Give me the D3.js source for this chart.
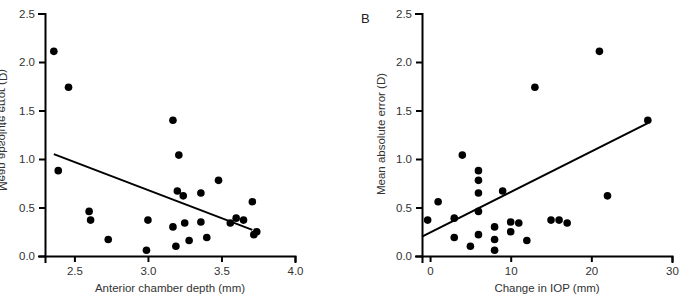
<!DOCTYPE html>
<html>
<head>
<meta charset="utf-8">
<script src="https://cdn.jsdelivr.net/npm/d3@7"></script>
<style>
    body { margin: 0; background: #fff; }
    svg { display: block; font-family: Arial, "Liberation Sans", sans-serif; }
    .axis path, .axis line { stroke: #000; stroke-width: 2; }
    .axis text { font-size: 11.5px; fill: #333; }
    .axis-label { font-size: 11.5px; fill: #333; }
</style>
</head>
<body>
<div class="acd-chart"></div>
<script>
// values
var maeValues = [2.11, 1.74, 1.40, 0.88, 1.04, 0.78, 0.67, 0.62, 0.65, 0.56, 0.46, 0.37, 0.37,
    0.30, 0.34, 0.35, 0.34, 0.39, 0.37, 0.25, 0.22, 0.17, 0.16, 0.19, 0.10, 0.06];
var acdValues = [2.36, 2.46, 3.17, 2.39, 3.21, 3.48, 3.20, 3.24, 3.36, 3.71, 2.60, 2.61, 3.00,
    3.17, 3.25, 3.36, 3.56, 3.60, 3.65, 3.74, 3.72, 2.73, 3.28, 3.40, 3.19, 2.99];
var iopValues = [21, 13, 27, 6, 4, 6, 9, 22, 6, 1, 6, 15, -0.3,
    8, 11, 10, 17, 3, 16, 10, 6, 8, 12, 3, 5, 8];
var fitAx = [2.36, 3.71];
var fitAy = [1.05, 0.27];
var fitBx = [-1, 27];
var fitBy = [0.20, 1.37];
var yTicks = [0, 0.5, 1.0, 1.5, 2.0, 2.5];
var acdTicks = [2.5, 3.0, 3.5, 4.0];
var iopTicks = [0, 10, 20, 30];
var yTitle = "Mean absolute error (D)";

var width = 681;
var height = 295;

var svg = d3.select(".acd-chart")
    .append("svg")
    .attr("width", width)
    .attr("height", height);

var y = d3.scaleLinear().domain([0, 2.5]).range([256, 13.5]);

function drawpanel(opts) {
    var x = d3.scaleLinear().domain(opts.domain).range(opts.range);
    var g = svg.append("g");

    g.append("g")
        .attr("class", "axis")
        .attr("transform", "translate(0,256)")
        .call(d3.axisBottom(x)
            .tickValues(opts.ticks)
            .tickFormat(opts.format)
            .tickSizeOuter(0)
            .tickSize(6)
            .tickPadding(5));

    g.append("g")
        .attr("class", "axis")
        .attr("transform", "translate(" + opts.range[0] + ",0)")
        .call(d3.axisLeft(y)
            .tickValues(yTicks)
            .tickFormat(d3.format(".1f"))
            .tickSizeOuter(0)
            .tickSize(6)
            .tickPadding(4));

    g.selectAll(".domain").attr("stroke-linecap", "square");

    g.append("line")
        .attr("x1", x(opts.fitx[0]))
        .attr("y1", y(opts.fity[0]))
        .attr("x2", x(opts.fitx[1]))
        .attr("y2", y(opts.fity[1]))
        .attr("stroke", "#000")
        .attr("stroke-width", 2);

    g.selectAll("circle")
        .data(maeValues)
        .enter()
        .append("circle")
        .attr("cx", function (d, i) {
            return x(opts.xs[i]);
        })
        .attr("cy", function (d) {
            return y(d);
        })
        .attr("r", 3.8)
        .attr("fill", "#000");

    g.append("text")
        .attr("class", "axis-label")
        .attr("x", (opts.range[0] + opts.range[1]) / 2)
        .attr("y", 292)
        .attr("text-anchor", "middle")
        .text(opts.xtitle);

    return g;
}

var panelA = drawpanel({
    domain: [2.3, 4.0],
    range: [45, 295],
    ticks: acdTicks,
    format: d3.format(".1f"),
    xs: acdValues,
    fitx: fitAx,
    fity: fitAy,
    xtitle: "Anterior chamber depth (mm)"
});

var panelB = drawpanel({
    domain: [-1, 30],
    range: [422, 672],
    ticks: iopTicks,
    format: d3.format("d"),
    xs: iopValues,
    fitx: fitBx,
    fity: fitBy,
    xtitle: "Change in IOP (mm)"
});

// left y title is mirrored and cut by the edge in the source figure
panelA.append("text")
    .attr("class", "axis-label")
    .attr("transform", "translate(-1,130) scale(-1,1) rotate(-90)")
    .attr("text-anchor", "middle")
    .text(yTitle);

panelB.append("text")
    .attr("class", "axis-label")
    .attr("transform", "translate(385,134) rotate(-90)")
    .attr("text-anchor", "middle")
    .text(yTitle);

panelB.append("text")
    .attr("x", 361)
    .attr("y", 23)
    .attr("font-size", 13)
    .attr("fill", "#222")
    .text("B");
</script>
</body>
</html>
